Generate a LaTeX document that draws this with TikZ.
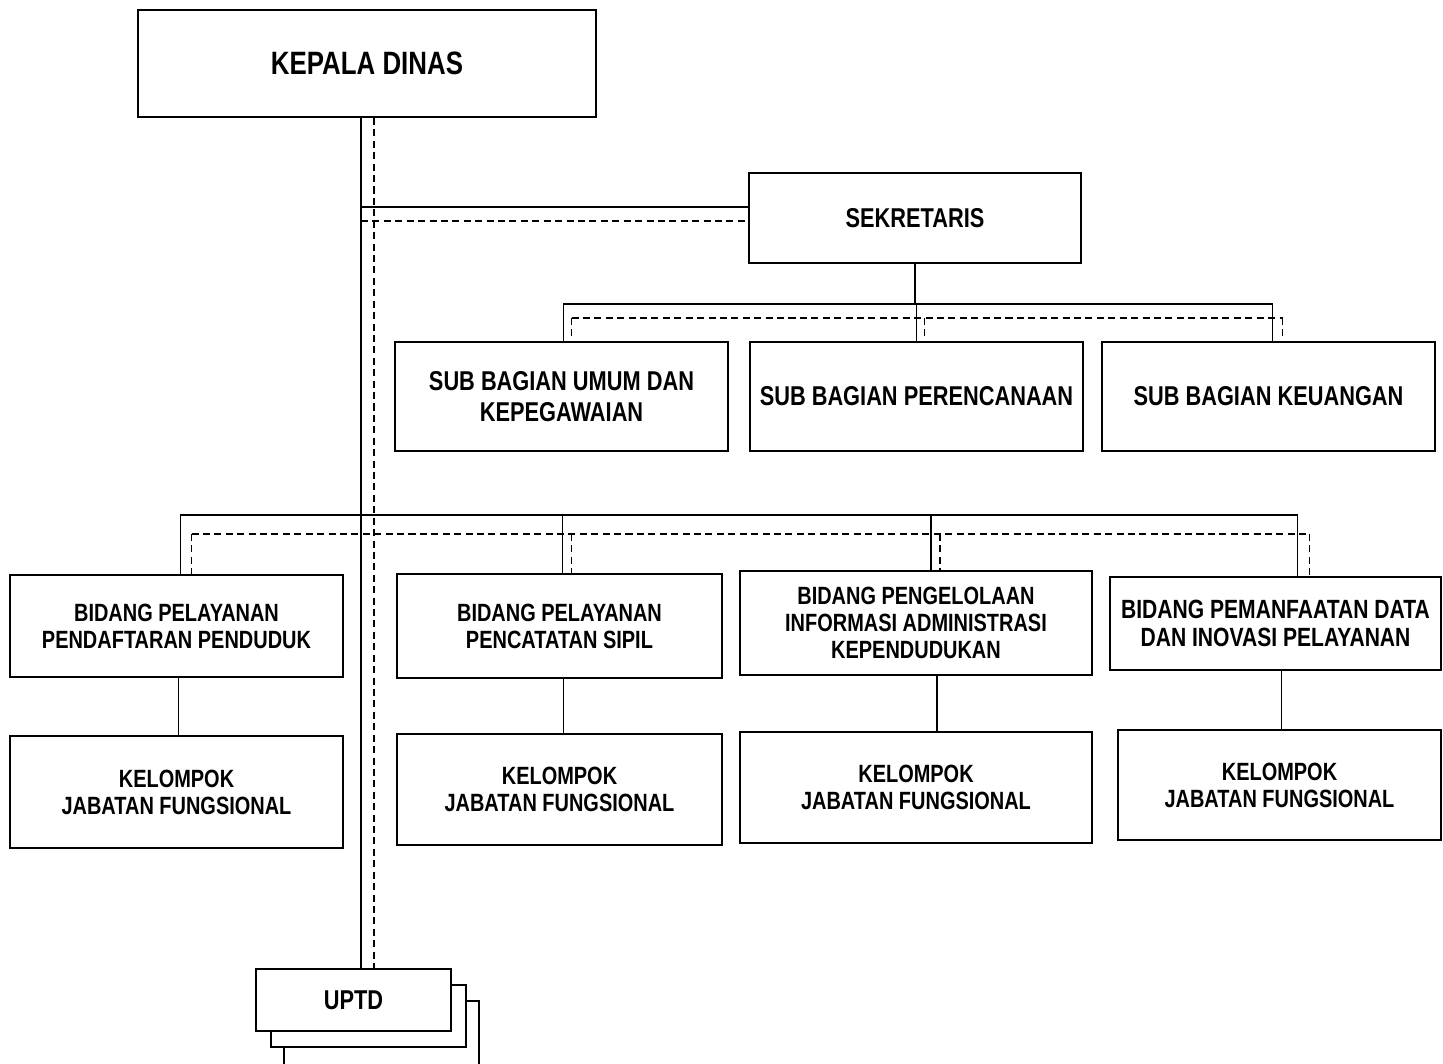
\documentclass[tikz,border=0pt]{standalone}
\usepackage{fontspec}
\setmainfont{Liberation Sans}[FakeStretch=0.8]
\usetikzlibrary{calc}
\tikzset{
  box/.style 2 args={draw, line width=1.1pt, fill=white, inner sep=0pt, align=center,
    minimum width=#1*0.02cm, minimum height=#2*0.02cm},
  kdtext/.style={font=\fontsize{18.4}{21}\selectfont\bfseries},
  sbtext/.style={font=\fontsize{15.5}{17.6}\selectfont\bfseries},
  bdtext/.style={font=\fontsize{14.2}{15.3}\selectfont\bfseries},
  dashline/.style={dash pattern=on 4pt off 2.5pt},
}
\begin{document}
\begin{tikzpicture}[x=0.02cm, y=-0.02cm, line width=1.1pt]
      \clip (0,0) rectangle (1443,1063);
      \draw
        (367,63.5) node[box={458}{107}, kdtext] (kd){KEPALA DINAS}
        (915,218) node[box={332}{90}, sbtext] (sek){SEKRETARIS}
        (561.5,396.5) node[box={333}{109}, sbtext] (sb1){SUB BAGIAN UMUM DAN\\KEPEGAWAIAN}
        (916.5,396.5) node[box={333}{109}, sbtext] (sb2){SUB BAGIAN PERENCANAAN}
        (1268.5,396.5) node[box={333}{109}, sbtext] (sb3){SUB BAGIAN KEUANGAN}
        (176.5,626) node[box={333}{102}, bdtext] (bd1){BIDANG PELAYANAN\\PENDAFTARAN PENDUDUK}
        (559.5,626) node[box={325}{104}, bdtext] (bd2){BIDANG PELAYANAN\\PENCATATAN SIPIL}
        (916,623) node[box={352}{104}, bdtext] (bd3){BIDANG PENGELOLAAN\\INFORMASI ADMINISTRASI\\KEPENDUDUKAN}
        (1275.5,623.5) node[box={331}{93}, bdtext, font=\fontsize{15}{15.8}\selectfont\bfseries] (bd4){BIDANG PEMANFAATAN DATA\\DAN INOVASI PELAYANAN}
        (176.5,792) node[box={333}{112}, bdtext] (kj1){KELOMPOK\\JABATAN FUNGSIONAL}
        (559.5,789.5) node[box={325}{111}, bdtext] (kj2){KELOMPOK\\JABATAN FUNGSIONAL}
        (916,787.5) node[box={352}{111}, bdtext] (kj3){KELOMPOK\\JABATAN FUNGSIONAL}
        (1279.5,785) node[box={323}{110}, bdtext] (kj4){KELOMPOK\\JABATAN FUNGSIONAL}
        (381.5,1042) node[box={195}{82}] (uptd3){}
        (368.5,1016) node[box={195}{62}] (uptd2){}
        (353.5,1000) node[box={195}{62}, sbtext] (uptd){UPTD};
      \coordinate (m) at (361,0);
      \coordinate (md) at (374,0);
      \coordinate (sj) at (0,207);
      \coordinate (sjd) at (0,221);
      \coordinate (sb) at (0,304);
      \coordinate (sbd) at (0,318);
      \coordinate (bb) at (0,515);
      \coordinate (bbd) at (0,534);
      \begin{scope}[-, line cap=rect]
        \draw (kd.south -| m) to (uptd.north -| m);
        \draw (sj -| m) to (sj -| sek.west);
        \draw (sek.south) to (sek.south |- sb);
        \draw ($(sb -| sb1.north)+(2,0)$) to ($(sb -| sb3.north)+(4,0)$);
        \foreach \n/\s in {sb1/2, sb2/0, sb3/4}
          \draw ($(sb -| \n.north)+(\s,0)$) to ($(\n.north)+(\s,0)$);
        \draw ($(bb -| bd1.north)+(4,0)$) to ($(bb -| bd4.north)+(22,0)$);
        \foreach \n/\s in {bd1/4, bd2/3, bd3/15, bd4/22}
          \draw ($(bb -| \n.north)+(\s,0)$) to ($(\n.north)+(\s,0)$);
        \foreach \n/\k/\s in {bd1/kj1/2, bd2/kj2/4, bd3/kj3/21, bd4/kj4/6}
          \draw ($(\n.south)+(\s,0)$) to ($(\k.north -| \n.south)+(\s,0)$);
      \end{scope}
      \begin{scope}[-, dashline]
        \draw (kd.south -| md) to (uptd.north -| md);
        \draw (sjd -| m) to (sjd -| sek.west);
        \draw ($(sbd -| sb1.north)+(10,0)$) to ($(sbd -| sb3.north)+(14,0)$);
        \foreach \n/\d in {sb1/10, sb2/8, sb3/14}
          \draw ($(sbd -| \n.north)+(\d,0)$) to ($(\n.north)+(\d,0)$);
        \draw ($(bbd -| bd1.north)+(15,0)$) to ($(bbd -| bd4.north)+(34,0)$);
        \foreach \n/\d in {bd1/15, bd2/12, bd3/24, bd4/34}
          \draw ($(bbd -| \n.north)+(\d,0)$) to ($(\n.north)+(\d,0)$);
      \end{scope}
    \end{tikzpicture}
\end{document}
